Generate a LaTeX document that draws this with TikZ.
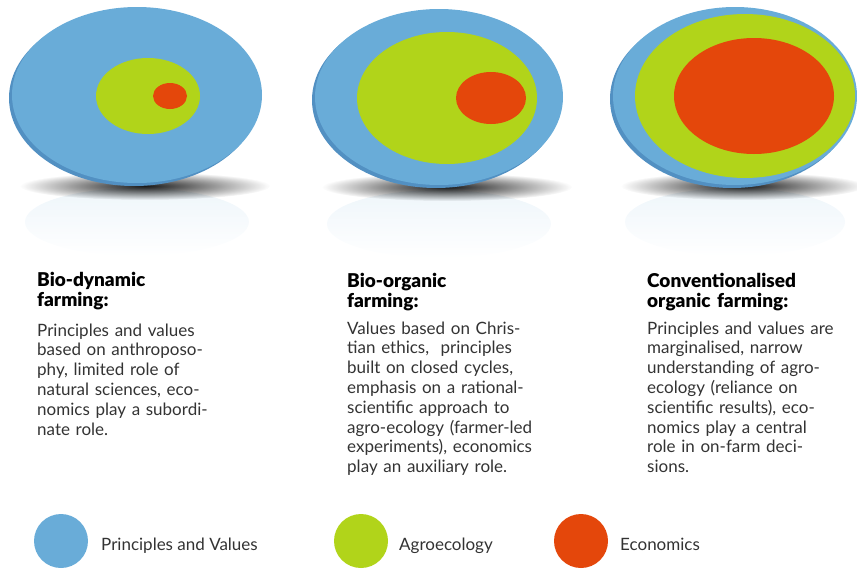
\documentclass[tikz,border=0pt]{standalone}
\usepackage{fontspec}
\setmainfont{Lato}
\newfontfamily\headfont{Lato Black}
\usetikzlibrary{fadings}
\definecolor{pvblue}{HTML}{69ACD8}
\definecolor{pvrim}{HTML}{5290C2}
\definecolor{agrogreen}{HTML}{B1D41A}
\definecolor{ecored}{HTML}{E4470B}
\definecolor{bodygrey}{HTML}{333333}
\tikzfading[name=softblob, inner color=transparent!0, outer color=transparent!100]
\tikzfading[name=downfade, top color=transparent!30, bottom color=transparent!100]
\tikzset{
  head/.style={anchor=base west, inner sep=0pt, text width=240pt, align=left, font=\headfont\fontsize{19}{20}\selectfont, text=black},
  body/.style={anchor=base west, inner sep=0pt, text width=240pt, align=left, font=\fontsize{17}{19.8}\selectfont, text=bodygrey},
  key/.style={anchor=base west, inner sep=0pt, font=\fontsize{17}{20}\selectfont, text=bodygrey},
  dot/.style={circle, inner sep=0pt, minimum size=54pt},
  floorshadow/.style={black, opacity=0.9, path fading=softblob},
  mirror/.style={pvblue, opacity=0.16, path fading=downfade}
}
\begin{document}
\begin{tikzpicture}[x=1pt,y=-1pt]
\useasboundingbox (0,0) rectangle (857,570);
\fill[mirror] (137,222) ellipse (112 and 34);
\fill[mirror] (439,224) ellipse (112 and 34);
\fill[mirror] (735,222) ellipse (110 and 34);
\fill[floorshadow] (145,186) ellipse (125 and 14);
\fill[floorshadow] (447,187) ellipse (125 and 14);
\fill[floorshadow] (743,186) ellipse (122 and 14);
\fill[pvrim] (134,98) ellipse (125 and 88);
\fill[pvblue] (137,95) ellipse (125 and 88);
\fill[agrogreen] (148,96) ellipse (52 and 38);
\fill[ecored] (170,96) ellipse (17 and 13);
\fill[pvrim] (436,100) ellipse (124 and 88);
\fill[pvblue] (439,97) ellipse (124 and 88);
\fill[agrogreen] (447,98) ellipse (90 and 66);
\fill[ecored] (491,98) ellipse (35 and 26);
\fill[pvrim] (732,99) ellipse (122 and 89);
\fill[pvblue] (735,96) ellipse (122 and 89);
\fill[agrogreen] (745,96) ellipse (110 and 82);
\fill[ecored] (754,96) ellipse (80 and 58);
\node[head] (BD_head) at (37,286) {Bio-dynamic\\ farming:};
\node[head] (BO_head) at (347,287) {Bio-organic\\ farming:};
\node[head] (CO_head) at (647,287) {Conventionalised\\ organic farming:};
\node[body] (BD_text) at (37,336) {Principles and values\\ based on anthroposo-\\ phy, limited role of\\ natural sciences, eco-\\ nomics play a subordi-\\ nate role.};
\node[body] (BO_text) at (347,334) {Values based on Chris-\\ tian ethics, \ principles\\ built on closed cycles,\\ emphasis on a rational-\\ scientific approach to\\ agro-ecology (farmer-led\\ experiments), economics\\ play an auxiliary role.};
\node[body] (CO_text) at (647,334) {Principles and values are\\ marginalised, narrow\\ understanding of agro-\\ ecology (reliance on\\ scientific results), eco-\\ nomics play a central\\ role in on-farm deci-\\ sions.};
\node[dot, fill=pvblue] (PV_dot) at (61,541) {};
\node[dot, fill=agrogreen] (AE_dot) at (361,541) {};
\node[dot, fill=ecored] (EC_dot) at (581,541) {};
\node[key] (PV_key) at (101,550) {Principles and Values};
\node[key] (AE_key) at (399,550) {Agroecology};
\node[key] (EC_key) at (620,550) {Economics};
\end{tikzpicture}
\end{document}
